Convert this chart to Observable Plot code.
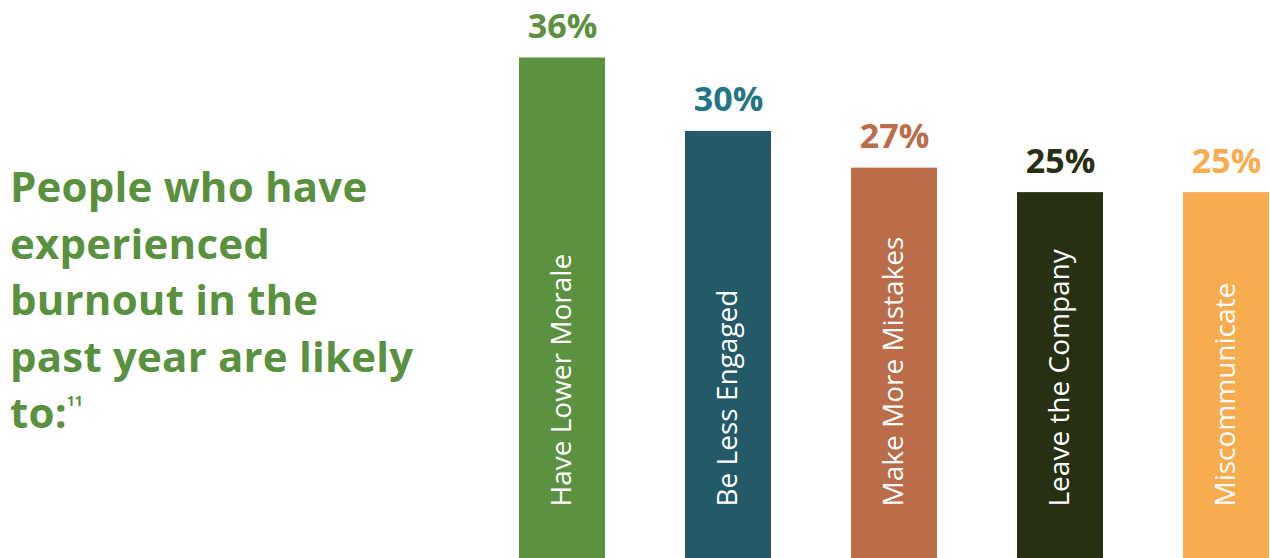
<!DOCTYPE html>
<html>
<head>
<meta charset="utf-8">
<script src="https://cdn.jsdelivr.net/npm/d3@7"></script>
<script src="https://cdn.jsdelivr.net/npm/@observablehq/plot@0.6"></script>
<style>
  html, body { margin: 0; padding: 0; background: #fff; overflow: hidden; }
  #wrap { position: relative; width: 1270px; height: 558px; }
  #title {
    position: absolute; left: 10px; top: 158px; width: 480px;
    font-family: "Open Sans", Lato, sans-serif; font-weight: 700;
    font-size: 42px; line-height: 56.5px; color: #5a913f; letter-spacing: 0.2px;
  }
  #title sup { font-size: 14px; vertical-align: 22px; line-height: 0; letter-spacing: 0; }
  #chart { position: absolute; left: 0; top: 0; }
  #chart svg { overflow: hidden; }
</style>
</head>
<body>
<div id="wrap">
  <div id="chart"></div>
  <div id="title">People who have<br>experienced<br>burnout in the<br>past year are likely<br>to:<sup>11</sup></div>
</div>
<script>
const categories = ["Have Lower Morale", "Be Less Engaged", "Make More Mistakes", "Leave the Company", "Miscommunicate"];
const values = [36, 30, 27, 25, 25];
const labels = ["36%", "30%", "27%", "25%", "25%"];
const barColors = ["#5c9140", "#245a68", "#bb6c49", "#283014", "#f7ac4f"];
const labelColors = ["#5c9140", "#237686", "#bb6c49", "#283014", "#f7ac4f"];

const yDomain = [-4.9, 40.7];
const data = categories.map((c, i) => ({category: c, value: values[i], label: labels[i], bar: barColors[i], lab: labelColors[i]}));

const chart = Plot.plot({
  width: 1270,
  height: 558,
  marginLeft: 519,
  marginRight: 1,
  marginTop: 0,
  marginBottom: 0,
  x: {domain: categories, paddingInner: 0.482, paddingOuter: 0, axis: null},
  y: {domain: yDomain, axis: null},
  style: {background: "transparent"},
  marks: [
    Plot.barY(data, {x: "category", y1: yDomain[0], y2: "value", fill: d => d.bar}),
    Plot.text(data, {
      x: "category", y: "value", text: "label", fill: d => d.lab,
      lineAnchor: "bottom", dy: -20,
      fontFamily: "'Open Sans', Lato, sans-serif", fontWeight: 700, fontSize: 34
    }),
    Plot.text(data, {
      x: "category", frameAnchor: "bottom", text: "category", fill: "white",
      rotate: -90, textAnchor: "start", lineAnchor: "middle", dy: -52,
      fontFamily: "'Open Sans', Lato, sans-serif", fontWeight: 400, fontSize: 28
    })
  ]
});
document.getElementById("chart").appendChild(chart);
</script>
</body>
</html>
